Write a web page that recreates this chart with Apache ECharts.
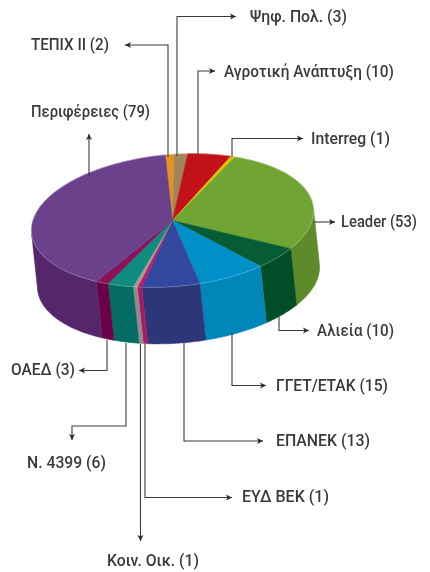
<!DOCTYPE html>
<html>
<head>
<meta charset="utf-8">
<title>Pie</title>
<style>
html, body { margin: 0; padding: 0; background: #fff; }
#chart { width: 430px; height: 572px; }
</style>
<script src="https://cdn.jsdelivr.net/npm/echarts@6/dist/echarts.min.js"></script>
</head>
<body>
<div id="chart"></div>
<script>
// clockwise from the top of the pie
const categories = ['ΤΕΠΙΧ ΙΙ', 'Ψηφ. Πολ.', 'Αγροτική Ανάπτυξη', 'Interreg', 'Leader', 'Αλιεία', 'ΓΓΕΤ/ΕΤΑΚ', 'ΕΠΑΝΕΚ', 'ΕΥΔ ΒΕΚ', 'Κοιν. Οικ.', 'Ν. 4399', 'ΟΑΕΔ', 'Περιφέρειες']
const values = [2, 3, 10, 1, 53, 10, 15, 13, 1, 1, 6, 3, 79]
const topColors = ['#e5921f', '#a2845a', '#c21219', '#e6c000', '#70a433', '#065d33', '#0090c8', '#32489c', '#bd1a6a', '#a59a96', '#0f8c7f', '#8a1259', '#6b418b']
const sideColors = ['#c47c18', '#8a7049', '#a00f14', '#c4a400', '#5e8a2b', '#004d28', '#0086b9', '#2c3679', '#a81a62', '#948a88', '#056c65', '#6a0046', '#55266a']

// pie geometry, pixels
const center = [172.5, 220.5]
const radiusX = 141.5
const radiusY = 66
const tilt = 5 * Math.PI / 180
const depth = [6, 56.5]
const startAngle = -0.6

// callout lines from the slice edge to the arrow tip, then label anchor [x, y] and width
const calloutPaths = [
    [[168, 157], [168, 45], [125, 45]],
    [[177, 156], [177, 16.5], [236, 16.5]],
    [[198, 155], [198, 71], [215, 71]],
    [[232, 157], [232, 138.5], [303, 138.5]],
    [[314, 222], [335, 222]],
    [[279, 317], [279, 330.5], [309, 330.5]],
    [[232, 333], [232, 385.5], [266, 385.5]],
    [[184, 343], [184, 441], [263, 441]],
    [[145, 344], [145, 497.5], [232, 497.5]],
    [[140.5, 344], [140.5, 541]],
    [[126, 343], [126, 426], [72, 426], [72, 440]],
    [[107, 340], [107, 370.5], [79, 370.5]],
    [[89, 176], [89, 134]]
]
const labelAnchors = [
    [31, 46], [250, 18], [224, 72.5], [311, 139.5],
    [341, 223], [317, 332], [276, 387], [276, 442],
    [242, 498], [107, 562], [27, 464], [11, 371], [31, 113]
]
const labelWidths = [78, 97, 170, 79, 76, 77, 112, 94, 87, 92, 79, 64, 119]

const total = values.reduce((a, b) => a + b, 0)
const FONT = '500 17px Roboto, sans-serif'
const measure = document.createElement('canvas').getContext('2d')
measure.font = FONT

function sliceRange(i) {
    let before = 0
    for (let k = 0; k < i; k++) before += values[k]
    return [startAngle + before / total * 360, startAngle + (before + values[i]) / total * 360]
}

function project(deg, shift) {
    const t = deg * Math.PI / 180
    const a = radiusX * Math.sin(t)
    const b = -radiusY * Math.cos(t)
    return [
        center[0] + a * Math.cos(tilt) + b * Math.sin(tilt) + (shift ? depth[0] : 0),
        center[1] - a * Math.sin(tilt) + b * Math.cos(tilt) + (shift ? depth[1] : 0)
    ]
}

function arcAngles(from, to) {
    const list = []
    const n = Math.max(2, Math.ceil((to - from) / 1.5))
    for (let k = 0; k <= n; k++) list.push(from + (to - from) * k / n)
    return list
}

function isFront(deg) {
    const t = deg * Math.PI / 180
    const du = depth[0] * Math.cos(tilt) - depth[1] * Math.sin(tilt)
    const dv = depth[0] * Math.sin(tilt) + depth[1] * Math.cos(tilt)
    return Math.sin(t) * du / radiusX - Math.cos(t) * dv / radiusY > 0
}

function renderSide(params, api) {
    const i = api.value(1)
    const range = sliceRange(i)
    const angles = arcAngles(range[0], range[1]).filter(isFront)
    if (angles.length < 2) return { type: 'group', children: [] }
    const points = angles.map(d => project(d, false)).concat(angles.slice().reverse().map(d => project(d, true)))
    return {
        type: 'polygon',
        shape: { points },
        style: { fill: sideColors[i], stroke: sideColors[i], lineWidth: 0.5 }
    }
}

function renderTop(params, api) {
    const i = api.value(1)
    const range = sliceRange(i)
    const arc = arcAngles(range[0], range[1]).map(d => project(d, false))
    const points = [center].concat(arc)
    return {
        type: 'group',
        children: [
            {
                type: 'polygon',
                shape: { points },
                style: { fill: topColors[i], stroke: topColors[i], lineWidth: 0.5 }
            },
            {
                type: 'polyline',
                shape: { points: arc },
                style: { fill: 'none', stroke: 'rgba(255,255,255,0.28)', lineWidth: 0.8 }
            }
        ]
    }
}

function arrowHead(path) {
    const tip = path[path.length - 1]
    const prev = path[path.length - 2]
    const len = Math.hypot(tip[0] - prev[0], tip[1] - prev[1])
    const ux = (tip[0] - prev[0]) / len
    const uy = (tip[1] - prev[1]) / len
    return [tip, [tip[0] - ux * 6 - uy * 3, tip[1] - uy * 6 + ux * 3], [tip[0] - ux * 4.5, tip[1] - uy * 4.5], [tip[0] - ux * 6 + uy * 3, tip[1] - uy * 6 - ux * 3]]
}

function renderCallout(params, api) {
    const i = api.value(1)
    const anchor = labelAnchors[i]
    const text = categories[i] + ' (' + values[i] + ')'
    return {
        type: 'group',
        children: [
            {
                type: 'polyline',
                shape: { points: calloutPaths[i] },
                style: { fill: 'none', stroke: '#3a3a3a', lineWidth: 1.1 }
            },
            {
                type: 'polygon',
                shape: { points: arrowHead(calloutPaths[i]) },
                style: { fill: '#2b2b2b' }
            },
            {
                // the reference face is a condensed one, so squeeze to its width
                type: 'text',
                x: anchor[0],
                y: anchor[1],
                scaleX: labelWidths[i] / measure.measureText(text).width,
                style: {
                    text,
                    x: 0,
                    y: 0,
                    align: 'left',
                    verticalAlign: 'middle',
                    font: FONT,
                    fill: '#3a3a3a'
                }
            }
        ]
    }
}

const rows = values.map((v, i) => [v, i])
const chart = echarts.init(document.getElementById('chart'), null, { renderer: 'canvas' })
chart.setOption({
    backgroundColor: '#fff',
    animation: false,
    series: [
        { type: 'custom', coordinateSystem: 'none', renderItem: renderSide, data: rows, z: 1, silent: true },
        { type: 'custom', coordinateSystem: 'none', renderItem: renderTop, data: rows, z: 2, silent: true },
        { type: 'custom', coordinateSystem: 'none', renderItem: renderCallout, data: rows, z: 3, silent: true }
    ]
})
</script>
</body>
</html>
